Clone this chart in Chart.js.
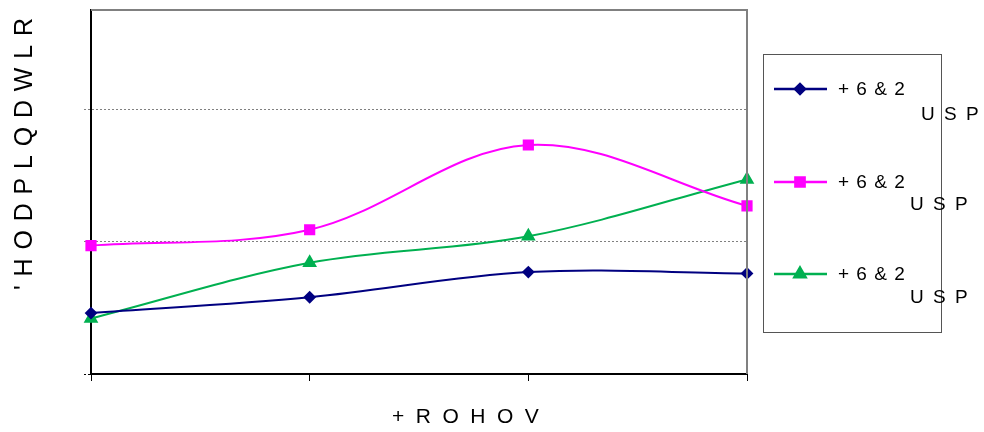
<!DOCTYPE html>
<html><head><meta charset="utf-8">
<script src="https://cdn.jsdelivr.net/npm/chart.js@4"></script>
<style>html,body{margin:0;padding:0;background:#fff}#wrap{width:984px;height:432px}</style>
</head><body><div id="wrap"><canvas id="c" width="984" height="432"></canvas></div>
<script>
const categories = ["1", "2", "3", "4"];
const series1 = [0.46, 0.58, 0.77, 0.76];
const series2 = [0.97, 1.09, 1.73, 1.27];
const series3 = [0.42, 0.84, 1.04, 1.47];
const legendLine1 = ["+ 6 & 2", "+ 6 & 2", "+ 6 & 2"];
const legendLine2 = ["U S P", "U S P", "U S P"];
const yTitle = "'HODPLQDWLR";
const xTitle = "+ROHOV";

const FONT = "'Liberation Sans', Arial, sans-serif";

const decor = {
  id: 'decor',
  afterDraw(chart) {
    const ctx = chart.ctx, a = chart.chartArea;
    ctx.save();
    ctx.strokeStyle = '#808080'; ctx.lineWidth = 2;
    ctx.beginPath(); ctx.moveTo(a.left, a.top); ctx.lineTo(a.right, a.top); ctx.lineTo(a.right, a.bottom); ctx.stroke();
    ctx.fillStyle = '#000';
    ctx.font = '21px ' + FONT; ctx.letterSpacing = '11.5px';
    ctx.textAlign = 'left'; ctx.textBaseline = 'alphabetic';
    ctx.fillText(xTitle, 392, 423);
    ctx.save();
    ctx.translate(32, 290); ctx.rotate(-Math.PI/2);
    ctx.font = '25px ' + FONT; ctx.letterSpacing = '8.8px';
    ctx.fillText(yTitle, 0, 0);
    ctx.restore();
    ctx.letterSpacing = '0px';
    ctx.strokeStyle = '#555'; ctx.lineWidth = 1;
    ctx.strokeRect(763.5, 54.5, 178, 278);
    const ys = [89, 182, 274];
    const usp = [[921, 115], [910, 205], [910, 298]];
    chart.data.datasets.forEach((ds, i) => {
      const y = ys[i];
      ctx.strokeStyle = ds.borderColor; ctx.lineWidth = 2.5;
      ctx.beginPath(); ctx.moveTo(774, y); ctx.lineTo(827, y); ctx.stroke();
      ctx.fillStyle = ds.borderColor; ctx.strokeStyle = ds.borderColor;
      Chart.helpers.drawPoint(ctx, {pointStyle: ds.pointStyle, radius: ds.pointRadius, borderWidth: 1, rotation: 0}, 800, y);
      ctx.fillStyle = '#000';
      ctx.font = '19px ' + FONT;
      ctx.textBaseline = 'middle';
      ctx.letterSpacing = '1px';
      ctx.fillText(legendLine1[i], 838, y + 1);
      ctx.letterSpacing = '2px';
      ctx.fillText(legendLine2[i], usp[i][0], usp[i][1]);
    });
    ctx.restore();
  }
};

new Chart(document.getElementById('c'), {
  type: 'line',
  data: {
    labels: categories,
    datasets: [
      {data: series1, borderColor: '#000080', backgroundColor: '#000080', pointStyle: 'rectRot', pointRadius: 5, pointHoverRadius: 5},
      {data: series2, borderColor: '#FF00FF', backgroundColor: '#FF00FF', pointStyle: 'rect', pointRadius: 6.5, pointHoverRadius: 6.5},
      {data: series3, borderColor: '#00B050', backgroundColor: '#00B050', pointStyle: 'triangle', pointRadius: 6.5, pointHoverRadius: 6.5}
    ].map(d => Object.assign({borderWidth: 2, tension: 0.35, cubicInterpolationMode: 'default', clip: false, fill: false}, d))
  },
  options: {
    responsive: false, animation: false, devicePixelRatio: 1,
    layout: {padding: {left: 0, right: 237, top: 10, bottom: 0}},
    plugins: {legend: {display: false}, tooltip: {enabled: false}},
    scales: {
      x: {
        offset: false,
        afterFit(s) { s.height = 58; },
        border: {color: '#000', width: 2},
        grid: {display: true, drawOnChartArea: false, drawTicks: true, tickLength: 7, color: '#000', tickWidth: 1},
        ticks: {callback: () => '', font: {size: 1}}
      },
      y: {
        min: 0, max: 2.75,
        afterFit(s) { s.width = 91; },
        border: {color: '#000', width: 2, dash: [2, 2]},
        grid: {
          drawTicks: true, tickLength: 7,
          color: ctx => ctx.tick && ctx.tick.value === 0 ? '#000' : '#808080',
          tickColor: ctx => ctx.tick && ctx.tick.value === 0 ? '#000' : '#808080',
          lineWidth: 1,
          tickBorderDash: [2, 2]
        },
        ticks: {stepSize: 1, includeBounds: false, callback: () => '', font: {size: 1}}
      }
    }
  },
  plugins: [decor]
});
</script></body></html>
